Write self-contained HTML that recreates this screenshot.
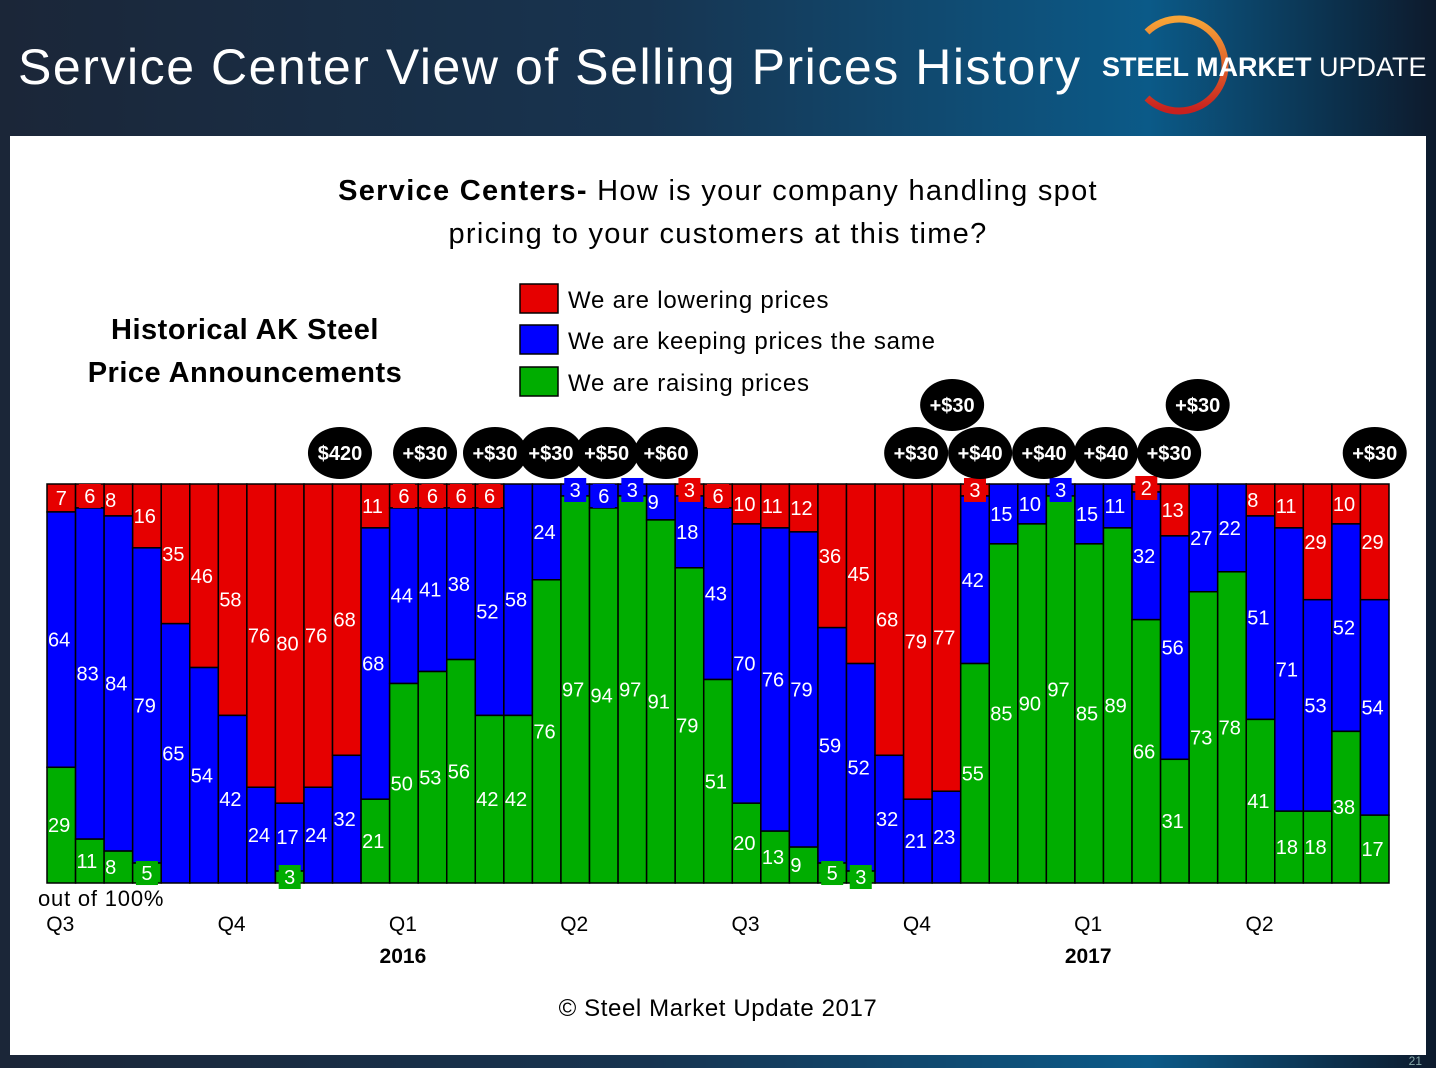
<!DOCTYPE html>
<html><head><meta charset="utf-8">
<style>
html,body{margin:0;padding:0;width:1436px;height:1068px;overflow:hidden;font-family:"Liberation Sans",sans-serif;}
body{background:linear-gradient(90deg,#1b2638 0%,#173450 45%,#0b5a88 80%,#0d1a2c 100%);position:relative;}
#panel{position:absolute;left:10px;top:136px;width:1416px;height:919px;background:#fff;}
#title{position:absolute;left:18px;top:38px;color:#fff;font-size:50px;white-space:nowrap;letter-spacing:1.55px;}
</style></head>
<body>
<div id="title">Service Center View of Selling Prices History</div>
<svg width="330" height="130" style="position:absolute;left:1100px;top:0">
<defs><linearGradient id="og" x1="0" y1="0" x2="0" y2="1"><stop offset="0" stop-color="#f7a437"/><stop offset="1" stop-color="#c8201e"/></linearGradient></defs>
<path d="M47 32 A46 46 0 1 1 47 98" fill="none" stroke="url(#og)" stroke-width="7"/>
<text x="2" y="76" fill="#fff" font-size="27" font-weight="bold" font-family="Liberation Sans,sans-serif">STEEL <tspan font-weight="bold">MARKET</tspan> <tspan font-weight="normal">UPDATE</tspan></text>
</svg>
<div id="panel"></div>
<svg id="chart" width="1436" height="1068" style="position:absolute;left:0;top:0"></svg>
<div style="position:absolute;right:14px;bottom:0;color:#8aa;font-size:12px">21</div>
<script>
const redVals=[7,6,8,16,35,46,58,76,80,76,68,11,6,6,6,6,0,0,0,0,0,0,3,6,10,11,12,36,45,68,79,77,3,0,0,0,0,0,2,13,0,0,8,11,29,10,29];
const blueVals=[64,83,84,79,65,54,42,24,17,24,32,68,44,41,38,52,58,24,3,6,3,9,18,43,70,76,79,59,52,32,21,23,42,15,10,3,15,11,32,56,27,22,51,71,53,52,54];
const greenVals=[29,11,8,5,0,0,0,0,3,0,0,21,50,53,56,42,42,76,97,94,97,91,79,51,20,13,9,5,3,0,0,0,55,85,90,97,85,89,66,31,73,78,41,18,18,38,17];
const annotations=[[10.26,"$420",0],[13.24,"+$30",0],[15.69,"+$30",0],[17.65,"+$30",0],[19.6,"+$50",0],[21.68,"+$60",0],[30.44,"+$30",0],[31.7,"+$30",1],[32.68,"+$40",0],[34.92,"+$40",0],[37.09,"+$40",0],[39.3,"+$30",0],[40.3,"+$30",1],[46.5,"+$30",0]];
const quarterLabels=[["Q3",0.5],["Q4",6.5],["Q1",12.5],["Q2",18.5],["Q3",24.5],["Q4",30.5],["Q1",36.5],["Q2",42.5]];
const yearLabels=[["2016",12.5],["2017",36.5]];
const svg=document.getElementById('chart');const NS='http://www.w3.org/2000/svg';
const X0=47,X1=1389,Y0=484,Y1=883,N=redVals.length,BW=(X1-X0)/N;
const x=i=>X0+i*BW, y=v=>Y0+v/100*(Y1-Y0);
function mk(t,a,txt){const e=document.createElementNS(NS,t);for(const k in a)e.setAttribute(k,a[k]);if(txt!==undefined)e.textContent=txt;svg.appendChild(e);return e;}
const cols=['#e60000','#0000ff','#00ad00'];const names=['lowering','same','raising'];
const labels=[];
for(let i=0;i<N;i++){let acc=0;[redVals[i],blueVals[i],greenVals[i]].forEach((v,s)=>{
 if(v>0){const r=mk('rect',{x:x(i),y:y(acc),width:BW,height:y(acc+v)-y(acc),fill:cols[s],stroke:'#000','stroke-width':1.5});
 
 
 labels.push([i,acc+v/2,v,s]);}
 acc+=v;});}
labels.forEach(([i,mid,v,s])=>{const cy=y(mid);
 if(v<=7){const b=mk('rect',{x:x(i)+BW/2-11,y:cy-12,width:22,height:24,fill:cols[s]});
 
 
 const t=mk('text',{x:x(i)+BW/2,y:cy+7,'text-anchor':'middle',fill:'#fff','font-size':20},v);
 
 }
 else{const t=mk('text',{x:x(i)+1,y:cy+7,fill:'#fff','font-size':20},v);
 
 }});
annotations.forEach(([p,txt,row])=>{const cx=X0+p*BW,cy=row?405:453;
 const e=mk('ellipse',{cx:cx,cy:cy,rx:32,ry:26,fill:'#000'});
 
 
 const t=mk('text',{x:cx,y:cy+7,'text-anchor':'middle',fill:'#fff','font-size':20,'font-weight':'bold'},txt);
 
 });
quarterLabels.forEach(([q,p])=>{const t=mk('text',{x:X0+p*BW-1,y:931,'text-anchor':'middle','font-size':21},q);
 
 });
yearLabels.forEach(([q,p])=>{const t=mk('text',{x:X0+p*BW-1,y:963,'text-anchor':'middle','font-size':21,'font-weight':'bold'},q);
 
 });
</script>
<svg width="1436" height="1068" style="position:absolute;left:0;top:0;pointer-events:none" font-family="Liberation Sans,sans-serif">
<text x="38" y="906" font-size="22" letter-spacing="0.8">out of 100%</text>
<text x="718" y="200" text-anchor="middle" font-size="29" letter-spacing="1.3"><tspan font-weight="bold">Service Centers-</tspan> How is your company handling spot</text>
<text x="718" y="243" text-anchor="middle" font-size="29" letter-spacing="1.3">pricing to your customers at this time?</text>
<text x="245" y="339" text-anchor="middle" font-size="29" font-weight="bold" letter-spacing="0.5">Historical AK Steel</text>
<text x="245" y="382" text-anchor="middle" font-size="29" font-weight="bold" letter-spacing="0.5">Price Announcements</text>
<g>
<rect x="520" y="284" width="38" height="29" fill="#e60000" stroke="#000" stroke-width="1.5"/>
<text x="568" y="308" font-size="24" letter-spacing="0.8">We are lowering prices</text>
<rect x="520" y="325" width="38" height="29" fill="#0000ff" stroke="#000" stroke-width="1.5"/>
<text x="568" y="349" font-size="24" letter-spacing="0.8">We are keeping prices the same</text>
<rect x="520" y="367" width="38" height="29" fill="#00ad00" stroke="#000" stroke-width="1.5"/>
<text x="568" y="391" font-size="24" letter-spacing="0.8">We are raising prices</text>
</g>
<text x="718" y="1016" text-anchor="middle" font-size="24" letter-spacing="0.6">© Steel Market Update 2017</text>
</svg>
</body></html>
